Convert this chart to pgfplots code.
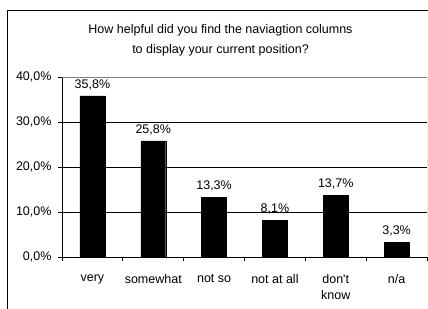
\documentclass[border=0pt]{standalone}
\usepackage{fontspec}
\setmainfont{Liberation Sans}[Ligatures=TeXOff]
\usepackage{pgfplots}
\pgfplotsset{compat=1.18}
\begin{document}
\begin{tikzpicture}[x=1bp,y=1bp]
\useasboundingbox (0,0) rectangle (428,309);
\clip (0,0) rectangle (428,309);
\draw[line width=1bp] (7.5,-5) -- (7.5,298.5) -- (440,298.5);
\node[font=\fontsize{12.5bp}{20bp}\selectfont,align=center] at (220.5,269) {How helpful did you find the naviagtion columns\\to display your current position?};
\begin{axis}[
  at={(62bp,52bp)}, anchor=south west,
  width=365bp, height=180bp, scale only axis,
  /pgf/number format/assume math mode=true,
  ybar, bar width=0.41,
  xmin=-0.5, xmax=5.5, ymin=0, ymax=40,
  enlargelimits=false,
  axis lines=left, axis line style={-, black, line width=0.8bp},
  xtick={0,...,5},
  xticklabels={very,somewhat,not so,not at all,{don't\\know},n/a},
  major x tick style={draw=none},
  minor xtick={-0.5,0.5,...,5.5},
  minor x tick style={black, line width=0.8bp},
  minor tick length=4bp,
  ytick={0,10,20,30,40},
  major tick length=4bp,
  y tick style={black, line width=0.8bp},
  tick align=outside,
  extra y ticks={10,20,30},
  extra y tick labels={},
  extra y tick style={grid=major, major tick length=0pt},
  grid style={black, line width=0.8bp},
  yticklabel={\pgfmathprintnumber[fixed,fixed zerofill,precision=1,use comma]{\tick}\%},
  ticklabel style={font=\fontsize{12.5bp}{16bp}\selectfont},
  xticklabel style={align=center, yshift=-10bp},
  yticklabel style={xshift=-3bp},
  nodes near coords={\pgfmathprintnumber[fixed,fixed zerofill,precision=1,use comma]{\pgfplotspointmeta}\%},
  every node near coord/.append style={font=\fontsize{12.5bp}{14bp}\selectfont, black, yshift=2.5bp},
]
\addplot[fill=black, draw=black] coordinates {(0,35.8) (1,25.8) (2,13.3) (3,8.1) (4,13.7) (5,3.3)};
\draw[gray, line width=0.8bp] (rel axis cs:0,1) -- (rel axis cs:1,1) -- (rel axis cs:1,0);
\end{axis}
\end{tikzpicture}
\end{document}
